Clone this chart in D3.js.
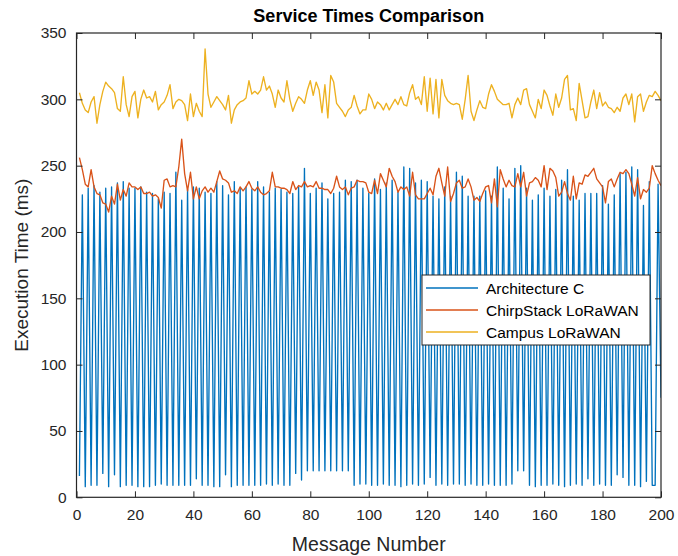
<!DOCTYPE html>
<html>
<head>
<meta charset="utf-8">
<script src="https://cdn.jsdelivr.net/npm/d3@7"></script>
<style>
  html, body { margin: 0; padding: 0; background: #fff; }
  svg { display: block; }
  text { font-family: Arial, "Liberation Sans", Helvetica, sans-serif; }
</style>
</head>
<body>
<svg id="chart" width="678" height="556"></svg>
<script>
// Execution time (ms) per message, messages 1..200
const archC = [
  16,228,8,233,9,235,9,230,18,233,
  8,234,17,237,8,238,9,233,9,233,
  8,234,8,230,8,229,9,225,10,230,
  9,229,9,245,9,224,9,232,9,234,
  14,233,9,230,9,229,8,238,8,235,
  17,228,8,238,9,233,9,234,9,232,
  9,238,9,234,10,230,9,233,10,232,
  9,230,9,229,18,234,13,248,20,229,
  20,233,20,237,20,225,20,229,20,230,
  20,239,20,238,9,239,10,233,10,229,
  9,240,9,232,10,237,9,239,9,230,
  8,249,9,248,10,237,9,239,10,238,
  15,227,9,225,10,234,9,227,10,245,
  10,242,9,227,10,227,9,227,9,231,
  10,227,9,249,9,233,9,225,10,248,
  20,250,20,233,9,224,8,228,9,233,
  9,227,10,232,9,239,8,247,9,227,
  10,224,9,229,14,229,9,229,10,235,
  9,221,9,228,17,244,15,245,9,249,
  9,247,8,220,12,238,9,9,236,75
];

const chirpStack = [
  256,247,236,234,247,234,229,228,222,221,
  215,227,221,236,224,232,227,237,234,234,
  232,234,229,229,230,227,228,226,218,239,
  240,234,235,234,249,270,244,231,245,225,
  234,225,231,234,230,233,230,238,246,240,
  239,237,230,231,229,234,231,234,238,233,
  231,234,230,228,229,231,245,234,234,233,
  233,232,229,238,232,235,234,238,234,235,
  234,238,233,233,232,232,229,233,242,234,
  232,234,228,233,234,239,238,238,237,230,
  229,239,229,244,239,234,248,242,238,230,
  234,232,234,227,245,228,225,225,225,229,
  233,228,242,248,237,227,249,223,229,237,
  239,233,234,240,234,224,226,223,229,234,
  235,222,240,219,247,240,234,239,235,234,
  244,234,245,227,237,238,241,239,234,250,
  232,248,246,241,227,230,238,229,224,242,
  225,237,236,243,242,245,248,240,237,234,
  222,238,240,234,240,245,244,247,244,236,
  227,241,225,232,230,233,250,244,239,235
];

const campus = [
  305,297,292,290,298,302,282,296,306,313,
  310,308,305,293,291,317,296,287,302,306,
  286,300,307,301,302,298,306,292,296,298,
  303,311,293,298,300,299,296,284,304,287,
  297,291,287,338,304,294,298,302,299,296,
  292,303,282,292,296,298,299,301,314,304,
  306,304,307,317,307,310,304,294,307,301,
  298,314,300,291,297,302,300,297,307,314,
  303,313,307,290,311,286,318,313,297,294,
  291,287,292,294,303,295,289,292,292,304,
  300,293,298,296,292,297,292,296,300,296,
  302,296,295,305,311,300,302,296,317,291,
  316,289,315,286,315,303,299,297,296,297,
  296,285,300,318,291,284,292,299,294,293,
  304,311,306,300,298,296,296,297,286,296,
  301,296,307,308,296,291,286,300,293,307,
  303,295,288,304,294,301,315,318,292,293,
  284,312,299,286,287,298,307,293,305,295,
  298,294,293,290,294,291,301,304,296,304,
  283,302,304,291,298,303,302,306,303,299
];

const seriesNames = ["Architecture C", "ChirpStack LoRaWAN", "Campus LoRaWAN"];
const seriesColors = ["#0072BD", "#D95319", "#EDB120"];
const xTicks = [0, 20, 40, 60, 80, 100, 120, 140, 160, 180, 200];
const yTicks = [0, 50, 100, 150, 200, 250, 300, 350];

const svg = d3.select("#chart");
const W = 678, H = 556;
const plot = { left: 76.5, right: 661, top: 33, bottom: 497.3 };
const axisColor = "#262626";
const tickLen = 6;

const x = d3.scaleLinear().domain([0, 200]).range([plot.left, plot.right]);
const y = d3.scaleLinear().domain([0, 350]).range([plot.bottom, plot.top]);

svg.append("rect").attr("width", W).attr("height", H).attr("fill", "#fff");

// clip the series to the axes box
svg.append("clipPath").attr("id", "clip")
  .append("rect")
  .attr("x", plot.left).attr("y", plot.top)
  .attr("width", plot.right - plot.left).attr("height", plot.bottom - plot.top);

const line = d3.line().x(d => x(d[0])).y(d => y(d[1]));
const allSeries = [archC, chirpStack, campus];
const g = svg.append("g").attr("clip-path", "url(#clip)");
allSeries.forEach((vals, i) => {
  g.append("path")
    .datum(vals.map((v, k) => [k + 1, v]))
    .attr("fill", "none")
    .attr("stroke", seriesColors[i])
    .attr("stroke-width", 1.35)
    .attr("stroke-linejoin", "round")
    .attr("d", line);
});

// axes: inward ticks on all four sides, MATLAB box style
function styleAxis(sel) {
  sel.select(".domain").remove();
  sel.selectAll(".tick line").attr("stroke", axisColor).attr("stroke-width", 1);
  sel.selectAll(".tick text").attr("fill", axisColor).attr("font-size", 15.5)
    .attr("font-family", "Arial, 'Liberation Sans', sans-serif");
}
svg.append("g").attr("transform", `translate(0,${plot.bottom})`)
  .call(d3.axisBottom(x).tickValues(xTicks).tickSizeInner(-tickLen).tickSizeOuter(0).tickPadding(12))
  .call(styleAxis);
svg.append("g").attr("transform", `translate(0,${plot.top})`)
  .call(d3.axisTop(x).tickValues(xTicks).tickSizeInner(-tickLen).tickSizeOuter(0).tickFormat(""))
  .call(styleAxis);
svg.append("g").attr("transform", `translate(${plot.left},0)`)
  .call(d3.axisLeft(y).tickValues(yTicks).tickSizeInner(-tickLen).tickSizeOuter(0).tickPadding(10))
  .call(styleAxis);
svg.append("g").attr("transform", `translate(${plot.right},0)`)
  .call(d3.axisRight(y).tickValues(yTicks).tickSizeInner(-tickLen).tickSizeOuter(0).tickFormat(""))
  .call(styleAxis);

svg.append("rect")
  .attr("x", plot.left).attr("y", plot.top)
  .attr("width", plot.right - plot.left).attr("height", plot.bottom - plot.top)
  .attr("fill", "none").attr("stroke", axisColor).attr("stroke-width", 1.2);

// title and axis labels
svg.append("text").attr("x", (plot.left + plot.right) / 2).attr("y", 22)
  .attr("text-anchor", "middle").attr("font-size", 18).attr("font-weight", "bold")
  .attr("fill", "#000").text("Service Times Comparison");
svg.append("text").attr("x", (plot.left + plot.right) / 2).attr("y", 551)
  .attr("text-anchor", "middle").attr("font-size", 19.5)
  .attr("fill", axisColor).text("Message Number");
svg.append("text")
  .attr("transform", `translate(28,${(plot.top + plot.bottom) / 2}) rotate(-90)`)
  .attr("text-anchor", "middle").attr("font-size", 19)
  .attr("fill", axisColor).text("Execution Time (ms)");

// legend
const lg = { x: 422, y: 275, w: 228, h: 70, row: 22 };
const legend = svg.append("g");
legend.append("rect").attr("x", lg.x).attr("y", lg.y).attr("width", lg.w).attr("height", lg.h)
  .attr("fill", "#fff").attr("stroke", axisColor).attr("stroke-width", 1);
seriesNames.forEach((name, i) => {
  const cy = lg.y + 13 + i * lg.row;
  legend.append("line").attr("x1", lg.x + 4).attr("x2", lg.x + 56)
    .attr("y1", cy).attr("y2", cy)
    .attr("stroke", seriesColors[i]).attr("stroke-width", 1.35);
  legend.append("text").attr("x", lg.x + 64).attr("y", cy + 5.5)
    .attr("font-size", 15.5).attr("fill", "#000").text(name);
});
</script>
</body>
</html>
